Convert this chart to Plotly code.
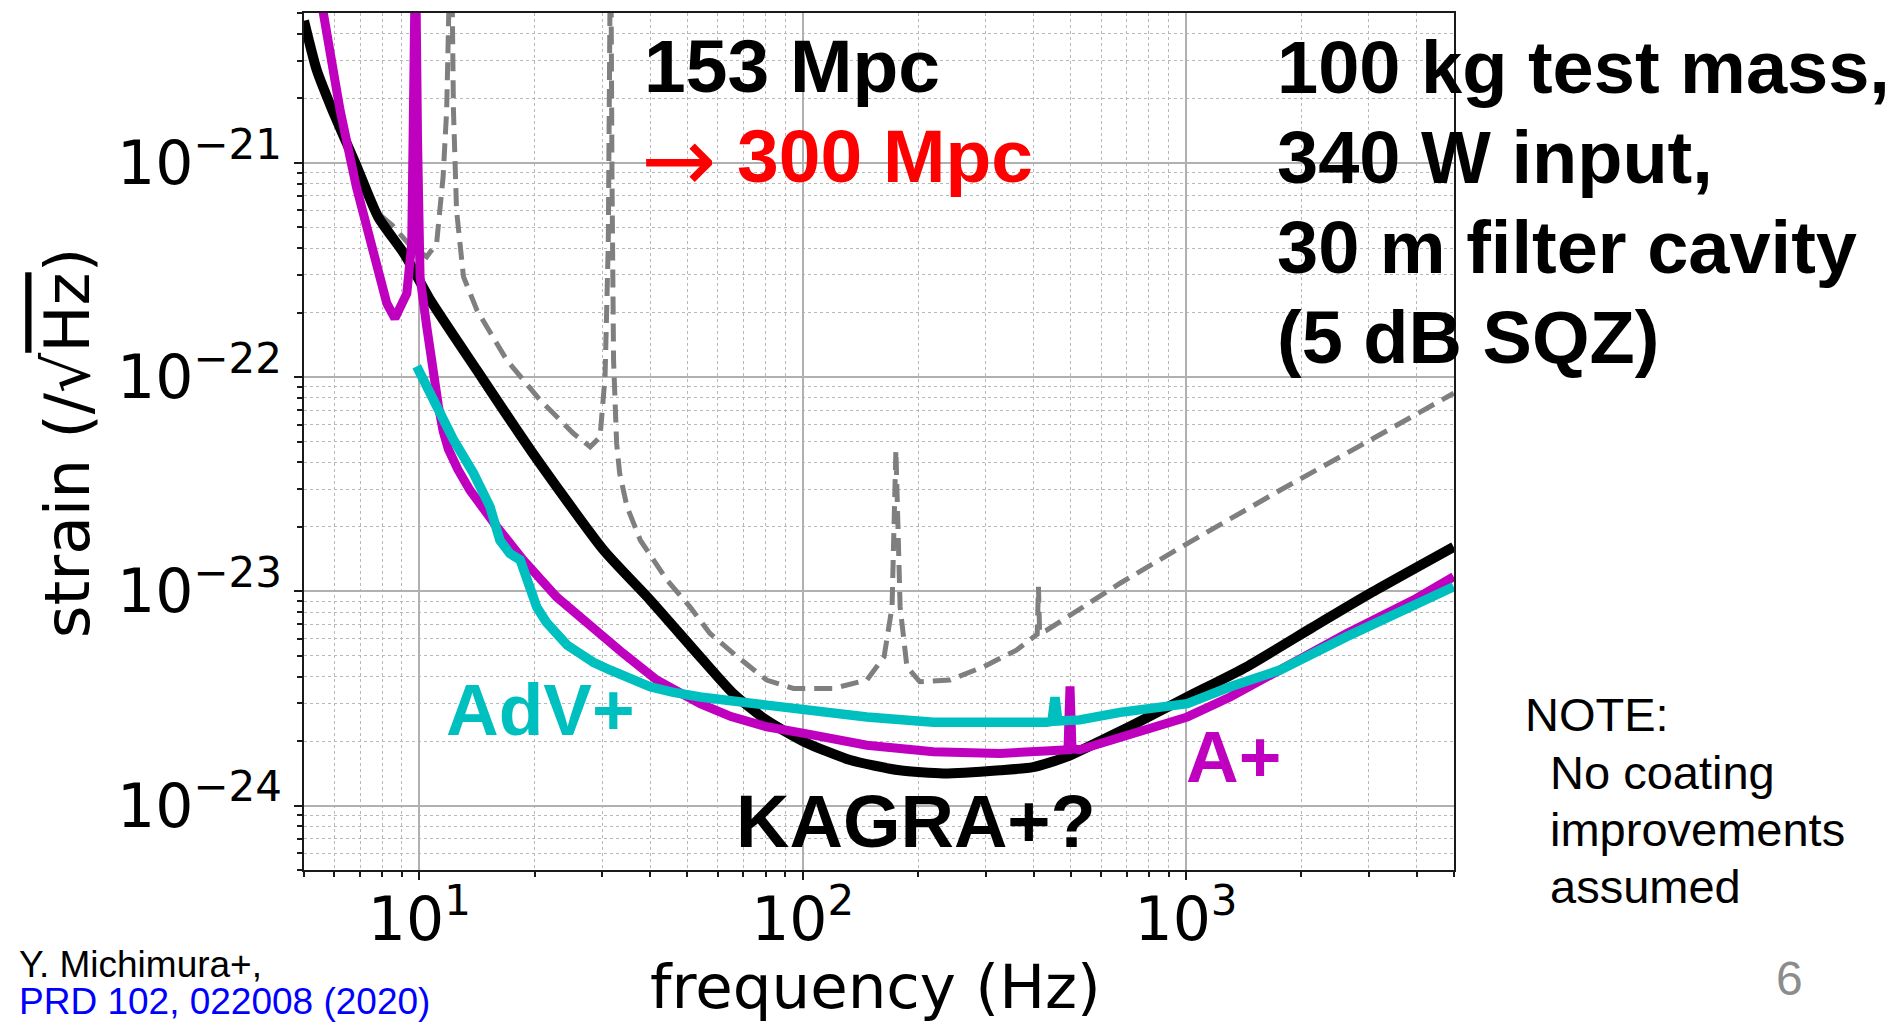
import math
import plotly.graph_objects as go

# ---------------- data ----------------
freq_kagra_plus = [5.0, 5.4, 5.9, 6.8, 7.8, 9.17, 10.67, 14.1, 19.5, 30.2, 40.0, 54.0, 65.9,
                   80.5, 101, 133, 179, 233, 327, 399, 489, 597, 714, 1007, 1439, 2148, 3020, 4990]
strain_kagra_plus = [4.6e-21, 2.7e-21, 1.8e-21, 1.0e-21, 5.6e-22, 3.71e-22, 2.29e-22, 1.08e-22,
                     4.56e-23, 1.56e-23, 9.1e-24, 4.94e-24, 3.33e-24, 2.50e-24, 1.98e-24, 1.63e-24,
                     1.46e-24, 1.41e-24, 1.46e-24, 1.51e-24, 1.69e-24, 2.0e-24, 2.34e-24, 3.21e-24,
                     4.44e-24, 6.82e-24, 9.77e-24, 1.61e-23]

freq_aplus = [5.5, 5.61, 6.21, 6.85, 7.59, 8.22, 8.63, 9.27, 9.55, 9.68, 9.77, 9.89, 10.04, 10.45,
              10.86, 11.2, 11.53, 11.9, 12.6, 13.55, 15.92, 18.66, 22.8, 27.9, 34.0, 41.6, 54.0,
              65.0, 80.5, 101, 147, 219, 327, 442, 492, 498, 504, 528, 673, 1007, 1303, 1758,
              2624, 3917, 4990]
strain_aplus = [6.2e-21, 5.0e-21, 1.76e-21, 7.7e-22, 3.78e-22, 2.21e-22, 1.88e-22, 2.45e-22,
                4.2e-22, 1.24e-21, 1.0e-20, 1.26e-21, 2.93e-22, 1.72e-22, 1.0e-22, 7.4e-23,
                5.6e-23, 4.6e-23, 3.7e-23, 2.96e-23, 2.0e-23, 1.40e-23, 9.4e-24, 6.82e-24,
                5.13e-24, 3.85e-24, 2.99e-24, 2.6e-24, 2.33e-24, 2.17e-24, 1.91e-24, 1.78e-24,
                1.75e-24, 1.80e-24, 1.82e-24, 3.6e-24, 1.84e-24, 1.82e-24, 2.09e-24, 2.59e-24,
                3.21e-24, 4.29e-24, 6.35e-24, 9.1e-24, 1.17e-23]

freq_advplus = [9.84, 10.67, 11.78, 12.27, 13.84, 15.28, 16.22, 17.22, 18.32, 19.05, 20.23, 21.4,
                22.8, 24.3, 26.2, 28.5, 31.4, 35.5, 40.0, 45.7, 54.0, 80.5, 101, 147, 219, 327,
                433, 447, 455, 463, 489, 528, 673, 1007, 1303, 1758, 2624, 3917, 4990]
strain_advplus = [1.12e-22, 8.4e-23, 5.9e-23, 5.1e-23, 3.55e-23, 2.48e-23, 1.73e-23, 1.50e-23,
                  1.40e-23, 1.13e-23, 8.45e-24, 7.2e-24, 6.35e-24, 5.6e-24, 5.13e-24, 4.65e-24,
                  4.29e-24, 3.9e-24, 3.58e-24, 3.38e-24, 3.21e-24, 2.94e-24, 2.79e-24, 2.59e-24,
                  2.45e-24, 2.42e-24, 2.45e-24, 2.47e-24, 3.2e-24, 2.48e-24, 2.50e-24, 2.51e-24,
                  2.72e-24, 2.99e-24, 3.58e-24, 4.29e-24, 6.14e-24, 8.47e-24, 1.05e-23]

freq_kagra = [7.9, 8.5, 9.44, 10.45, 11.09, 11.53, 11.78, 11.97, 12.1, 12.27, 12.5, 13.03, 14.13,
              16.9, 20.65, 25.2, 27.9, 29.6, 30.5, 31.1, 31.4, 31.55, 31.8, 32.1, 32.7, 33.3, 34.8,
              37.7, 44.2, 50.8, 57.3, 65.9, 80.5, 94.6, 120, 147, 163, 171, 175, 179.5, 187, 202,
              242, 296, 361, 400, 409, 412, 415, 433, 540, 673, 1007, 1758, 3020, 4990]
strain_kagra = [5.7e-22, 5.1e-22, 4.13e-22, 3.64e-22, 4.21e-22, 8.6e-22, 1.76e-21, 5.0e-21, 1.6e-20,
                1.76e-21, 6.0e-22, 2.94e-22, 2.05e-22, 1.2e-22, 7.8e-23, 5.46e-23, 4.72e-23,
                5.26e-23, 1.0e-22, 4.21e-22, 5.0e-21, 1.6e-20, 8.6e-22, 1.2e-22, 4.9e-23, 3.55e-23,
                2.48e-23, 1.73e-23, 1.13e-23, 8.45e-24, 6.35e-24, 5.13e-24, 3.85e-24, 3.52e-24,
                3.52e-24, 3.85e-24, 4.94e-24, 8.45e-24, 4.56e-23, 8.45e-24, 4.44e-24, 3.78e-24,
                3.85e-24, 4.44e-24, 5.31e-24, 6.14e-24, 6.3e-24, 1.05e-23, 6.4e-24, 6.58e-24,
                8.45e-24, 1.09e-23, 1.67e-23, 2.96e-23, 5.07e-23, 8.4e-23]

x_tick_vals = [10, 100, 1000]
x_tick_text = ["10<sup>1</sup>", "10<sup>2</sup>", "10<sup>3</sup>"]
y_tick_vals = [1e-24, 1e-23, 1e-22, 1e-21]
y_tick_text = ["10<sup>\u221224</sup>", "10<sup>\u221223</sup>", "10<sup>\u221222</sup>", "10<sup>\u221221</sup>"]
x_minor_vals = [m * d for d in (1, 10, 100, 1000) for m in range(2, 10) if 5 <= m * d <= 5000]
y_minor_vals = [m * d for d in (1e-25, 1e-24, 1e-23, 1e-22, 1e-21) for m in range(2, 10)
                if 5e-25 * 0.999 <= m * d <= 5e-21 * 1.001]

# ---------------- layout geometry ----------------
W, H = 1903, 1023
L, R, T, B = 304, 449, 13, 153
PW, PH = W - L - R, H - T - B


def px_x(px):
    return (px - L) / PW


def px_y(py):
    return (H - B - py) / PH


ARIAL = "Liberation Sans, Arial, sans-serif"
DEJAVU = "DejaVu Sans, sans-serif"

fig = go.Figure()
fig.add_trace(go.Scatter(x=freq_kagra, y=strain_kagra, mode="lines", name="KAGRA",
                         line=dict(color="#7f7f7f", width=5, dash="18px,9px")))
fig.add_trace(go.Scatter(x=freq_kagra_plus, y=strain_kagra_plus, mode="lines", name="KAGRA+?",
                         line=dict(color="black", width=10, shape="spline", smoothing=0.6)))
fig.add_trace(go.Scatter(x=freq_aplus, y=strain_aplus, mode="lines", name="A+",
                         line=dict(color="#bf00bf", width=9)))
fig.add_trace(go.Scatter(x=freq_advplus, y=strain_advplus, mode="lines", name="AdV+",
                         line=dict(color="#00bfbf", width=9.5)))

annotations = []


def ann(text, left, baseline, size, color="black", family=ARIAL, bold=True, asc=0.3465):
    annotations.append(dict(
        text=text, xref="paper", yref="paper", x=px_x(left), y=px_y(baseline - asc * size),
        xanchor="left", yanchor="middle", showarrow=False, borderpad=0,
        font=dict(family=family, size=size, color=color, weight="bold" if bold else "normal")))


ann("153 Mpc", 643, 92, 75)
# red arrow drawn as a glyph, then the red number
annotations.append(dict(text="\u2192", xref="paper", yref="paper", x=px_x(640), y=px_y(160),
                        xanchor="left", yanchor="middle", showarrow=False, borderpad=0,
                        font=dict(family=DEJAVU, size=90, color="#ff0000")))
ann("300 Mpc", 736, 182, 75, color="#ff0000")
ann("100 kg test mass,", 1276, 93, 74)
ann("340 W input,", 1276, 183, 74)
ann("30 m filter cavity", 1276, 273, 74)
ann("(5 dB SQZ)", 1276, 363, 74)
ann("AdV+", 445, 735, 73, color="#00bfbf")
ann("A+", 1185, 782, 73, color="#bf00bf")
ann("KAGRA+?", 735, 847, 74)
ann("NOTE:", 1524, 731, 47, bold=False)
ann("No coating", 1549, 789, 47, bold=False)
ann("improvements", 1549, 846, 47, bold=False)
ann("assumed", 1549, 903, 47, bold=False)
ann("6", 1775, 995, 48, color="#8c8c8c", bold=False)
ann("Y. Michimura+,", 18, 977, 37, bold=False)
ann("PRD 102, 022008 (2020)", 18, 1014, 37, color="#0000ff", bold=False)

# axis titles
annotations.append(dict(text="frequency (Hz)", xref="paper", yref="paper",
                        x=px_x(875), y=px_y(1008 - 0.346 * 61), xanchor="center", yanchor="middle",
                        showarrow=False, borderpad=0, font=dict(family=DEJAVU, size=61, color="black")))
annotations.append(dict(text="strain (/\u221a<span style='text-decoration:overline'>Hz</span>)",
                        xref="paper", yref="paper", textangle=-90,
                        x=px_x(90 - 0.346 * 63), y=px_y(443), xanchor="center", yanchor="middle",
                        showarrow=False, borderpad=0, font=dict(family=DEJAVU, size=63, color="black")))

axis_common = dict(
    type="log", showline=True, mirror=True, linecolor="#1a1a1a", linewidth=2,
    ticks="outside", ticklen=8, tickwidth=2, tickcolor="#1a1a1a",
    showgrid=True, gridcolor="#b0b0b0", gridwidth=1.6, zeroline=False,
    tickfont=dict(family=DEJAVU, size=60, color="black"),
)

minor_common = dict(tickmode="array", ticks="outside", ticklen=5, tickwidth=1.5,
                    tickcolor="#1a1a1a", showgrid=True, gridcolor="#b8b8b8", gridwidth=1.2,
                    griddash="dot")

fig.update_layout(
    width=W, height=H, autosize=False,
    margin=dict(l=L, r=R, t=T, b=B),
    paper_bgcolor="white", plot_bgcolor="white",
    showlegend=False,
    xaxis=dict(**axis_common, range=[math.log10(5), math.log10(5000)],
               tickmode="array", tickvals=x_tick_vals, ticktext=x_tick_text,
               ticklabelstandoff=-12,
               minor=dict(**minor_common, tickvals=x_minor_vals)),
    yaxis=dict(**axis_common, range=[math.log10(5e-25), math.log10(5e-21)],
               tickmode="array", tickvals=y_tick_vals, ticktext=y_tick_text,
               ticklabelstandoff=0,
               minor=dict(**minor_common, tickvals=y_minor_vals)),
    annotations=annotations,
)

fig.write_html("out.html")
